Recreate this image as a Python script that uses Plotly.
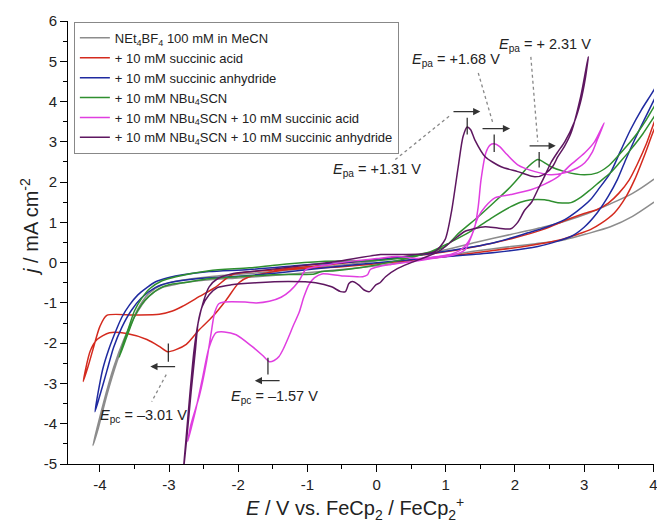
import plotly.graph_objects as go

# ---------------- data (E / V, j / mA cm-2) ----------------
gray_x = [0.0, 0.5, 1.0, 1.47, 1.94, 2.4, 2.72, 3.05, 3.38, 3.7, 4.0, 4.25,
          4.25, 4.0, 3.7, 3.38, 3.05, 2.72, 2.3, 1.94, 1.4, 0.8, 0.0, -0.8, -1.5, -2.0, -2.5, -2.85,
          -3.1, -3.3, -3.5, -3.65, -3.8, -3.95, -4.10,
          -4.02, -3.9, -3.75, -3.6, -3.45, -3.3, -3.1, -2.8, -2.3, -1.7, -1.0, -0.3, 0.0]
gray_y = [0.05, 0.18, 0.32, 0.52, 0.70, 0.88, 1.03, 1.22, 1.46, 1.72, 2.06, 2.4,
          1.8, 1.49, 1.15, 0.89, 0.72, 0.57, 0.47, 0.40, 0.28, 0.12, -0.08, -0.22, -0.32, -0.38, -0.44, -0.52,
          -0.62, -0.85, -1.35, -1.9, -2.6, -3.5, -4.54,
          -4.1, -3.3, -2.45, -1.75, -1.15, -0.78, -0.55, -0.43, -0.33, -0.25, -0.14, -0.02, 0.05]

red_x = [0.0, 0.8, 1.5, 2.0, 2.4, 2.76, 3.0, 3.19, 3.35, 3.5, 3.65, 3.77, 3.9, 4.01, 4.2,
         4.2, 4.01, 3.88, 3.73, 3.6, 3.44, 3.25, 3.09, 2.9, 2.66, 2.2, 1.6, 1.0, 0.3, -0.5, -1.27,
         -1.84, -1.99, -2.17, -2.37, -2.56, -2.75, -2.9, -3.02, -3.14, -3.32, -3.61, -3.86, -4.04,
         -4.14, -4.24,
         -4.17, -4.10, -4.0, -3.90, -3.5, -3.14, -2.95, -2.81, -2.56, -2.32, -2.09, -1.5, -0.8, 0.0]
red_y = [0.08, 0.22, 0.42, 0.62, 0.82, 1.07, 1.22, 1.32, 1.48, 1.72, 2.05, 2.45, 2.95, 3.47, 4.3,
         4.0, 3.30, 2.7, 2.06, 1.62, 1.24, 0.98, 0.82, 0.7, 0.57, 0.42, 0.28, 0.15, 0.02, -0.1, -0.17,
         -0.35, -0.5, -0.92, -1.34, -1.66, -2.03, -2.16, -2.21, -2.08, -1.91, -1.76, -1.74, -1.91,
         -2.2, -2.95,
         -2.58, -2.16, -1.59, -1.31, -1.30, -1.28, -1.2, -1.09, -0.84, -0.60, -0.3, -0.18, -0.07, 0.08]

blue_x = [0.0, 0.8, 1.71, 2.33, 2.81, 3.0, 3.19, 3.35, 3.48, 3.6, 3.73, 3.87, 4.01, 4.2,
          4.2, 4.01, 3.83, 3.67, 3.52, 3.38, 3.22, 3.09, 2.9, 2.72, 2.45, 2.19, 1.71, 1.0, 0.3,
          -0.5, -1.0, -1.84, -2.42, -2.8, -3.0, -3.2, -3.32, -3.45, -3.57, -3.68, -3.76, -3.87,
          -3.96, -4.07,
          -4.0, -3.9, -3.8, -3.68, -3.55, -3.4, -3.2, -3.0, -2.6, -2.0, -1.4, -0.7, 0.0]
blue_y = [0.0, 0.12, 0.25, 0.40, 0.65, 0.88, 1.24, 1.65, 2.06, 2.55, 3.05, 3.55, 4.04, 4.7,
          4.9, 4.29, 3.8, 3.30, 2.75, 2.23, 1.85, 1.56, 1.28, 1.07, 0.88, 0.74, 0.50, 0.28, 0.12,
          0.0, -0.05, -0.17, -0.22, -0.30, -0.37, -0.48, -0.62, -0.8, -1.05, -1.35, -1.66, -2.15,
          -2.66, -3.70,
          -3.3, -2.7, -2.1, -1.6, -1.2, -0.88, -0.62, -0.5, -0.40, -0.34, -0.25, -0.12, 0.0]

green_x = [0.0, 0.5, 0.99, 1.2, 1.47, 1.7, 1.94, 2.1, 2.19, 2.33, 2.45, 2.52, 2.72, 3.0, 3.19,
           3.35, 3.48, 3.62, 3.77, 3.9, 4.01, 4.2,
           4.2, 4.01, 3.85, 3.67, 3.52, 3.38, 3.22, 3.09, 2.95, 2.81, 2.62, 2.43, 2.23, 2.08, 1.94,
           1.7, 1.47, 1.14, 0.75, 0.3, -0.22, -0.6, -0.79, -0.9, -1.5, -2.0, -2.42, -2.8, -3.0,
           -3.15, -3.28, -3.4, -3.5, -3.61, -3.72,
           -3.66, -3.58, -3.5, -3.4, -3.28, -3.1, -2.9, -2.42, -1.84, -1.4, -0.8, 0.0]
green_y = [0.05, 0.15, 0.40, 0.75, 1.14, 1.5, 1.89, 2.2, 2.38, 2.56, 2.46, 2.38, 2.26, 2.18, 2.23,
           2.4, 2.63, 2.9, 3.22, 3.55, 3.87, 4.4,
           4.1, 3.62, 3.2, 2.80, 2.5, 2.23, 2.0, 1.81, 1.62, 1.49, 1.49, 1.56, 1.56, 1.5, 1.39,
           1.15, 0.89, 0.57, 0.25, 0.05, -0.12, -0.2, -0.22, -0.28, -0.3, -0.35, -0.4, -0.5, -0.55,
           -0.65, -0.82, -1.05, -1.35, -1.84, -2.35,
           -2.0, -1.6, -1.2, -0.9, -0.65, -0.45, -0.35, -0.2, -0.13, -0.05, 0.03, 0.05]

magenta_x = [0.3, 0.6, 0.89, 1.1, 1.22, 1.32, 1.42, 1.47, 1.51, 1.58, 1.64, 1.70, 1.78, 1.86,
             2.04, 2.29, 2.52, 2.72, 2.9, 3.01, 3.12, 3.19, 3.29,
             3.15, 3.01, 2.8, 2.62, 2.43, 2.23, 1.94, 1.71, 1.57, 1.47, 1.37, 1.28, 1.1, 0.8, 0.5,
             0.2, 0.03, -0.09, -0.13, -0.2, -0.5, -0.79, -0.9, -0.98, -1.05, -1.12, -1.2, -1.27,
             -1.35, -1.41, -1.48, -1.55, -1.65, -1.80, -2.03, -2.2, -2.32, -2.42, -2.52, -2.62, -2.73,
             -2.68, -2.56, -2.46, -2.39, -2.34, -2.28, -2.2, -1.9, -1.74, -1.55, -1.38, -1.25,
             -1.12, -1.02, -0.7, -0.3, 0.0, 0.3]
magenta_y = [0.15, 0.1, 0.15, 0.22, 0.32, 0.5, 0.89, 1.4, 2.06, 2.73, 2.92, 2.95, 2.88, 2.73,
             2.43, 2.26, 2.18, 2.23, 2.35, 2.48, 2.75, 3.05, 3.47,
             3.0, 2.73, 2.42, 2.13, 1.95, 1.81, 1.69, 1.61, 1.39, 1.14, 0.65, 0.32, 0.18, 0.1, 0.02,
             -0.05, -0.1, -0.17, -0.3, -0.35, -0.33, -0.28, -0.38, -0.55, -0.85, -1.24, -1.55, -1.84,
             -2.15, -2.33, -2.43, -2.46, -2.3, -2.08, -1.79, -1.72, -1.74, -2.1, -2.9, -3.7, -4.44,
             -4.0, -3.3, -2.48, -1.74, -1.24, -1.02, -0.98, -0.98, -1.0, -0.96, -0.86, -0.7,
             -0.45, -0.17, -0.05, 0.05, 0.1, 0.15]

purple_x = [0.06, 0.4, 0.7, 0.85, 0.99, 1.08, 1.18, 1.25, 1.31, 1.36, 1.42, 1.57, 1.80, 2.04,
            2.29, 2.43, 2.55, 2.62, 2.72, 2.81, 2.95, 3.06,
            3.02, 2.95, 2.86, 2.72, 2.62, 2.52, 2.43, 2.33, 2.24, 2.14, 2.04, 1.94, 1.75, 1.57,
            1.4, 1.28, 1.1, 0.9, 0.5, 0.3, 0.13, 0.05, -0.01, -0.1, -0.18, -0.26, -0.35, -0.40,
            -0.45, -0.52, -0.65, -0.88, -1.27, -1.74, -2.1, -2.3, -2.42, -2.52, -2.58, -2.62,
            -2.68, -2.74, -2.80,
            -2.76, -2.70, -2.64, -2.58, -2.5, -2.42, -2.3, -2.1, -1.8, -1.3, -0.6, 0.06]
purple_y = [0.2, 0.2, 0.22, 0.28, 0.57, 1.24, 2.38, 3.13, 3.37, 3.3, 3.05, 2.63, 2.38, 2.26,
            2.13, 2.2, 2.4, 2.63, 2.9, 3.22, 4.12, 5.11,
            4.6, 4.0, 3.5, 3.0, 2.75, 2.48, 2.15, 1.81, 1.5, 1.3, 1.0, 0.84, 0.86, 0.89,
            0.84, 0.78, 0.55, 0.28, 0.0, -0.15, -0.35, -0.5, -0.55, -0.72, -0.68, -0.55, -0.47, -0.52,
            -0.72, -0.72, -0.6, -0.50, -0.47, -0.50, -0.55, -0.62, -0.8, -1.09, -1.5, -2.2,
            -3.2, -4.3, -5.3,
            -4.5, -3.3, -2.2, -1.5, -0.95, -0.6, -0.4, -0.28, -0.22, -0.12, 0.02, 0.2]

series_names = [
    "NEt<sub>4</sub>BF<sub>4</sub> 100 mM in MeCN",
    "+ 10 mM succinic acid",
    "+ 10 mM succinic anhydride",
    "+ 10 mM NBu<sub>4</sub>SCN",
    "+ 10 mM NBu<sub>4</sub>SCN + 10 mM succinic acid",
    "+ 10 mM NBu<sub>4</sub>SCN + 10 mM succinic anhydride",
]
series_colors = ["#8c8c8c", "#d42a1e", "#1f2aa0", "#2f8f2f", "#e03ee0", "#5e1760"]

x_tick_vals = [-4, -3, -2, -1, 0, 1, 2, 3, 4]
x_tick_text = ["-4", "-3", "-2", "-1", "0", "1", "2", "3", "4"]
y_tick_vals = [-5, -4, -3, -2, -1, 0, 1, 2, 3, 4, 5, 6]
y_tick_text = ["-5", "-4", "-3", "-2", "-1", "0", "1", "2", "3", "4", "5", "6"]

# peak annotations: label, label pos, dotted leader (x0,y0,x1,y1), arrow tail->head, tick (x, y0, y1)
peak_labels = ["<i>E</i><sub>pa</sub> = +1.31 V", "<i>E</i><sub>pa</sub> = +1.68 V",
               "<i>E</i><sub>pa</sub> = + 2.31 V", "<i>E</i><sub>pc</sub> = –3.01 V",
               "<i>E</i><sub>pc</sub> = –1.57 V"]
label_pos = [(0.0, 2.3), (1.15, 5.04), (2.43, 5.41), (-3.37, -3.82), (-1.48, -3.33)]
leaders = [(0.27, 2.56, 1.06, 3.65), (1.47, 4.71, 1.68, 3.47), (2.23, 5.11, 2.33, 3.0),
           (-3.04, -2.78, -3.25, -3.45), None]
arrows = [(1.09, 3.75, 1.50, 3.75), (1.51, 3.33, 1.93, 3.33), (2.19, 2.90, 2.59, 2.90),
          (-2.89, -2.58, -3.27, -2.58), (-1.38, -2.93, -1.76, -2.93)]
peak_ticks = [(1.31, 3.18, 3.60), (1.70, 2.75, 3.18), (2.35, 2.36, 2.75),
              (-3.01, -2.46, -2.01), (-1.57, -2.78, -2.36)]

FONT = "Arial, Liberation Sans, sans-serif"

fig = go.Figure()
all_x = [gray_x, red_x, blue_x, green_x, magenta_x, purple_x]
all_y = [gray_y, red_y, blue_y, green_y, magenta_y, purple_y]
for xs, ys, nm, col in zip(all_x, all_y, series_names, series_colors):
    fig.add_trace(go.Scatter(x=xs, y=ys, mode="lines", name=nm,
                             line=dict(color=col, width=1.5, shape="spline", smoothing=0.7)))

shapes = []
annotations = []
for lab, (lx, ly), ld, ar, tk in zip(peak_labels, label_pos, leaders, arrows, peak_ticks):
    annotations.append(dict(x=lx, y=ly, xref="x", yref="y", text=lab, showarrow=False,
                            font=dict(family=FONT, size=14.5, color="#222")))
    if ld is not None:
        shapes.append(dict(type="line", xref="x", yref="y", x0=ld[0], y0=ld[1], x1=ld[2], y1=ld[3],
                           line=dict(color="#888", width=1.3, dash="dot")))
    annotations.append(dict(x=ar[2], y=ar[3], ax=ar[0], ay=ar[1], xref="x", yref="y",
                            axref="x", ayref="y", text="", showarrow=True, arrowhead=2,
                            arrowsize=1.2, arrowwidth=1.2, arrowcolor="#333", standoff=0))
    shapes.append(dict(type="line", xref="x", yref="y", x0=tk[0], x1=tk[0], y0=tk[1], y1=tk[2],
                       line=dict(color="#222", width=1.2)))

annotations.append(dict(xref="paper", yref="paper", x=0.49, y=-0.1, yanchor="middle",
                        text="<i>E</i> / V vs. FeCp<sub>2</sub> / FeCp<sub>2</sub><sup>+</sup>",
                        showarrow=False, font=dict(family=FONT, size=20, color="#222")))
annotations.append(dict(xref="paper", yref="paper", x=-0.065, y=0.535, xanchor="center",
                        yanchor="middle", textangle=-90,
                        text="<i>j</i> / mA cm<sup>-2</sup>",
                        showarrow=False, font=dict(family=FONT, size=20, color="#222")))

fig.update_layout(
    width=657, height=524,
    margin=dict(l=68, r=0, t=21, b=60),
    paper_bgcolor="white", plot_bgcolor="white",
    font=dict(family=FONT, size=15, color="#222"),
    showlegend=True,
    legend=dict(x=0.01, y=0.998, xanchor="left", yanchor="top",
                bgcolor="white", bordercolor="#888", borderwidth=1,
                font=dict(family=FONT, size=13, color="#222"),
                itemwidth=30, tracegroupgap=0),
    shapes=shapes, annotations=annotations,
)
fig.update_xaxes(range=[-4.46, 4.01], showline=True, linecolor="black", linewidth=1,
                 ticks="outside", ticklen=7, tickcolor="black",
                 tickmode="array", tickvals=x_tick_vals, ticktext=x_tick_text,
                 ticklabeloverflow="allow",
                 showgrid=False, zeroline=False,
                 minor=dict(ticks="outside", ticklen=4, tickcolor="black",
                            tickmode="linear", tick0=0, dtick=0.5, showgrid=False))
fig.update_yaxes(range=[-5, 6], showline=True, linecolor="black", linewidth=1,
                 ticks="outside", ticklen=7, tickcolor="black",
                 tickmode="array", tickvals=y_tick_vals, ticktext=y_tick_text,
                 showgrid=False, zeroline=False,
                 minor=dict(ticks="outside", ticklen=4, tickcolor="black",
                            tickmode="linear", tick0=0, dtick=0.5, showgrid=False))

# remove the default 8 px body margin so the 657x524 figure fills the window exactly
fig.write_html("out.html", config={"displayModeBar": False},
               post_script="document.body.style.margin='0';document.body.style.overflow='hidden';")
